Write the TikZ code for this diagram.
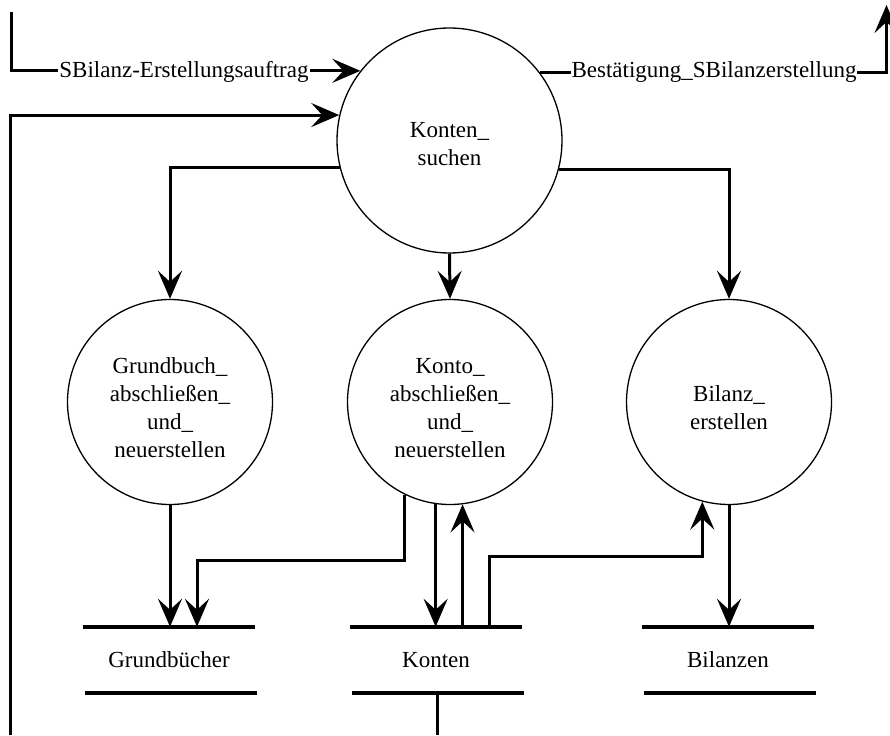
\documentclass[tikz,border=0pt]{standalone}
\usepackage{fontspec}
\setmainfont{Liberation Serif}
\usetikzlibrary{arrows.meta,calc}
\begin{document}
\begin{tikzpicture}[x=1pt,y=-1pt,
  proc/.style={circle,draw,line width=1.3pt,inner sep=0pt},
  ptext/.style={align=center,inner sep=0pt,font=\fontsize{23}{28}\selectfont},
  store/.style={minimum width=172pt,minimum height=66pt,inner sep=0pt,
    font=\fontsize{23}{28}\selectfont},
  flow/.style={line width=3pt,-{Stealth[length=28pt,width=24pt,inset=11pt]}},
  plain/.style={line width=3pt},
  slabel/.style={fill=white,inner sep=1pt,font=\fontsize{23}{28}\selectfont},
  sline/.style={line width=3.5pt}]
\useasboundingbox (0,0) rectangle (890,735);
% processes
\node[proc,minimum size=225pt] (T) at (449.5,140.5) {};
\node[proc,minimum size=205pt] (G) at (170,402) {};
\node[proc,minimum size=205pt] (K) at (450,402) {};
\node[proc,minimum size=205pt] (B) at (729,402) {};
\node[ptext] (Tt) at ($(T.center)+(0,4)$) {Konten\_\\suchen};
\node[ptext] (Gt) at ($(G.center)+(0,6)$) {Grundbuch\_\\abschließen\_\\und\_\\neuerstellen};
\node[ptext] (Kt) at ($(K.center)+(0,6)$) {Konto\_\\abschließen\_\\und\_\\neuerstellen};
\node[ptext] (Bt) at ($(B.center)+(0,6)$) {Bilanz\_\\erstellen};
% stores
\node[store] (GS) at (169,660) {Grundbücher};
\node[store] (KS) at (436,660) {Konten};
\node[store] (BS) at (728,660) {Bilanzen};
\foreach \s in {GS,KS,BS}{
  \draw[sline] (\s.north west) -- (\s.north east);
  \draw[sline] ($(\s.south west)+(2,0)$) -- ($(\s.south east)+(2,0)$);
}
% free ends
\coordinate (tl) at (11.5,12);
\coordinate (bl) at (10,735);
\coordinate (tr) at (886.5,5);
\coordinate (kout) at (437,735);
\coordinate (kb) at (600,556.5);
% top flows
\draw[flow] (tl) |- (T.142.5);
\draw[flow] (bl) |- (T.167.4);
\draw[flow] (T.37.5) -| (tr);
\node[slabel] (l1) at (184,72) {SBilanz-Erstellungsauftrag};
\node[slabel] (l2) at (714,72) {Bestätigung\_SBilanzerstellung};
% from Konten_suchen
\draw[flow] (T.194.1) -| (G);
\draw[flow] (T.south) -- (K.north);
\draw[flow] (T.345.9) -| (B);
% to stores
\draw[flow] (G.south) -- (G.south |- GS.north);
\draw[flow] (K.244.6) |- ($(GS.north)+(28,-66)$) -- ($(GS.north)+(28,0)$);
\draw[flow] (K.262.7) -- (K.262.7 |- KS.north);
\draw[flow] (K.277.3 |- KS.north) -- (K.277.3);
\draw[flow] ($(KS.north)+(53,0)$) |- (B.255.3 |- kb) -- (B.255.3);
\draw[flow] (B.south) -- (B.south |- BS.north);
\draw[plain] (KS.south -| kout) -- (kout);
\end{tikzpicture}
\end{document}
